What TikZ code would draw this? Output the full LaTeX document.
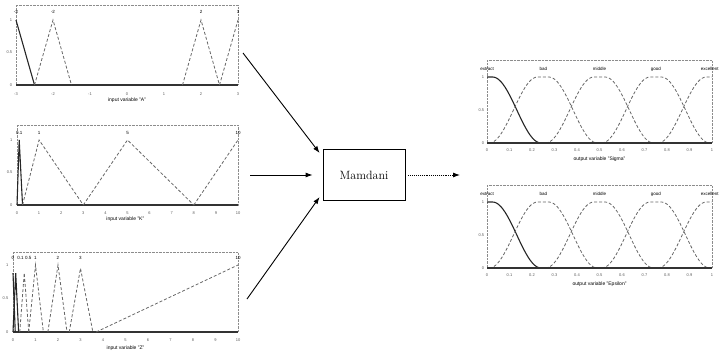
\documentclass[tikz,border=0pt]{standalone}
\usepackage{fontspec}
\setsansfont{Liberation Sans}
\usetikzlibrary{arrows.meta}
\usetikzlibrary{calc}
\tikzset{>=latex}
\colorlet{mfgray}{black!60}
\colorlet{framegray}{black!45}
\colorlet{tickgray}{black!65}
\tikzstyle{axisframe}=[framegray,densely dotted,line width=0.4pt]
\tikzstyle{mfline}=[mfgray,densely dashed,line width=0.8pt]
\tikzstyle{mfsel}=[black!85,line width=1.1pt]
\tikzstyle{zeroline}=[black!80,line width=1.2pt]
\tikzstyle{ticklbl}=[font=\sffamily\fontsize{4}{4}\selectfont,text=tickgray,inner sep=0pt]
\tikzstyle{mflbl}=[font=\sffamily\fontsize{4.5}{5}\selectfont,inner sep=0pt]
\tikzstyle{axlbl}=[font=\sffamily\fontsize{5}{6}\selectfont,inner sep=0pt]
\tikzstyle{feed}=[-{Latex[length=7pt,width=5pt]},line width=0.9pt]

\begin{document}
\begin{tikzpicture}[x=1pt,y=-1pt]
  \useasboundingbox (0,0) rectangle (723,356);
  \def\sh{0.025} % half width of the flat top
  \def\ft{0.24}  % half width of the foot

  % input variable A
  \begin{scope}[shift={(127,85)},x=37pt,y=65pt]
    \draw[axisframe] (-3,0) rectangle (3,1.23);
    \draw[zeroline] (-3,0) -- (3,0);
    \draw[mfsel] (-3,1) -- (-2.5,0);
    \draw[mfline] (-2.5,0) -- (-2,1) -- (-1.5,0);
    \draw[mfline] (1.5,0) -- (2,1) -- (2.5,0);
    \draw[mfline] (2.5,0) -- (3,1);
    \foreach \t in {-3,...,3}
      \node[ticklbl] at (\t,-0.14) {\t};
    \node[ticklbl,anchor=east] at (-3.1,1) {1};
    \node[ticklbl,anchor=east] at (-3.1,0.5) {0.5};
    \node[ticklbl,anchor=east] at (-3.1,0) {0};
    \foreach \t in {-3,-2,2,3}
      \node[mflbl] at (\t,1.12) {\t};
    \node[axlbl] (labA) at (0,-0.23) {input variable "A"};
  \end{scope}

  % input variable K
  \begin{scope}[shift={(17,205)},x=22.1pt,y=65pt]
    \draw[axisframe] (0,0) rectangle (10,1.23);
    \draw[zeroline] (0,0) -- (10,0);
    \draw[mfsel] (0,0) -- (0.1,1) -- (0.25,0);
    \draw[mfline] (0.25,0) -- (1,1) -- (3,0);
    \draw[mfline] (3,0) -- (5,1) -- (8,0);
    \draw[mfline] (8,0) -- (10,1);
    \foreach \t in {0,...,10}
      \node[ticklbl] at (\t,-0.12) {\t};
    \node[ticklbl,anchor=east] at (-0.2,1) {1};
    \node[ticklbl,anchor=east] at (-0.2,0.5) {0.5};
    \node[ticklbl,anchor=east] at (-0.2,0) {0};
    \foreach \t in {0.1,1,5,10}
      \node[mflbl] at (\t,1.11) {\t};
    \node[axlbl] (labK) at (4.9,-0.22) {input variable "K"};
  \end{scope}

  % input variable Z
  \begin{scope}[shift={(13,332)},x=22.5pt,y=67pt]
    \draw[axisframe] (0,0) rectangle (10,1.19);
    \draw[zeroline] (0,0) -- (10,0);
    \draw[mfsel] (0,0.88) -- (0.1,0);
    \draw[mfsel] (0,0) -- (0.12,0.88) -- (0.25,0);
    \draw[mfline] (0.3,0) -- (0.5,0.88) -- (0.7,0);
    \draw[mfline] (0.7,0) -- (1,1) -- (1.35,0);
    \draw[mfline] (1.55,0) -- (2,1) -- (2.4,0);
    \draw[mfline] (2.5,0) -- (3,0.95) -- (3.55,0);
    \draw[mfline] (3.7,0) -- (10,1);
    \foreach \t in {0,...,10}
      \node[ticklbl] at (\t,-0.12) {\t};
    \node[ticklbl,anchor=east] at (-0.2,1) {1};
    \node[ticklbl,anchor=east] at (-0.2,0.5) {0.5};
    \node[ticklbl,anchor=east] at (-0.2,0) {0};
    \node[mflbl] at (0,1.1) {0};
    \node[mflbl] at (0.33,1.1) {0.1};
    \node[mflbl] at (0.68,1.1) {0.5};
    \foreach \t in {1,2,3,10}
      \node[mflbl] at (\t,1.1) {\t};
    \node[axlbl] (labZ) at (5,-0.24) {input variable "Z"};
  \end{scope}

  % output variables
  \foreach \yo/\nm in {143/Sigma,268/Epsilon} {
    \begin{scope}[shift={(487,\yo)},x=225pt,y=66pt]
      \draw[axisframe] (0,0) rectangle (1,1.25);
      \begin{scope}
        \clip (0,-0.05) rectangle (1,1.05);
        \foreach \c/\st in {0/mfsel,0.25/mfline,0.5/mfline,0.75/mfline,1/mfline}
          \draw[\st] plot[domain=\c-\ft:\c-\sh,samples=24]
              (\x,{0.5-0.5*cos(180*(\x-\c+\ft)/(\ft-\sh))})
            -- (\c+\sh,1)
            -- plot[domain=\c+\sh:\c+\ft,samples=24]
              (\x,{0.5+0.5*cos(180*(\x-\c-\sh)/(\ft-\sh))});
      \end{scope}
      \draw[zeroline] (0,0) -- (1,0);
      \foreach \s [count=\k from 0] in {0,0.1,0.2,0.3,0.4,0.5,0.6,0.7,0.8,0.9,1}
        \node[ticklbl] at (\k/10,-0.11) {\s};
      \node[ticklbl,anchor=east] at (-0.012,1) {1};
      \node[ticklbl,anchor=east] at (-0.012,0.5) {0.5};
      \node[ticklbl,anchor=east] at (-0.012,0) {0};
      \node[mflbl,anchor=west] at (-0.03,1.12) {extract};
      \node[mflbl] at (0.25,1.12) {bad};
      \node[mflbl] at (0.5,1.12) {middle};
      \node[mflbl] at (0.75,1.12) {good};
      \node[mflbl] at (0.99,1.12) {excellent};
      \node[axlbl] at (0.5,-0.24) {output variable "\nm"};
    \end{scope}
  }

  % inference block and connectors
  \node[draw,line width=0.8pt,minimum width=82pt,minimum height=51pt,
        font=\fontsize{12}{14}\selectfont] (mamdani) at (364,175) {Mamdani};
  \coordinate (inA) at (243,53);
  \coordinate (inK) at (250,175);
  \coordinate (inZ) at (247,299);
  \coordinate (outS) at (460,175);
  \draw[feed] (inA) -- ($(mamdani.west)+(-3,-22)$);
  \draw[feed] (inK) -- ($(mamdani.west)+(-10,0)$);
  \draw[feed] (inZ) -- ($(mamdani.west)+(-3,22)$);
  \draw[feed,densely dotted] ($(mamdani.east)+(3,0)$) -- (outS);
\end{tikzpicture}
\end{document}
